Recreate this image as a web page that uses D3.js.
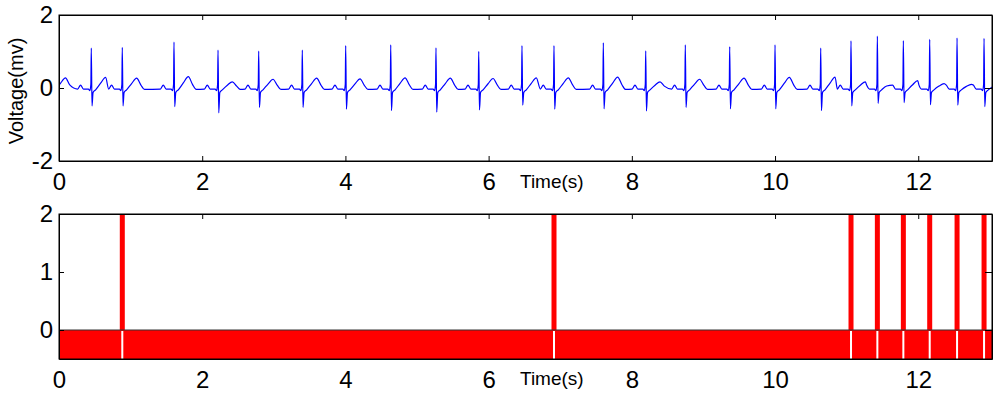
<!DOCTYPE html>
<html>
<head>
<meta charset="utf-8">
<script src="https://cdn.jsdelivr.net/npm/d3@7"></script>
<style>
  body { margin: 0; background: #fff; }
  svg { display: block; font-family: "Liberation Sans", Arial, sans-serif; }
  .axis path, .axis line { stroke: #000; }
  .axis text { font-size: 24px; fill: #000; }
</style>
</head>
<body>
<div id="chart"></div>
<script>
// R-peak times (s) (first one is the beat just before t=0)
var rTimes = [-0.11, 0.451, 0.884, 1.606, 2.221, 2.789, 3.398, 4.004, 4.633, 5.265, 5.862, 6.466,
              6.913, 7.602, 8.194, 8.747, 9.367, 10.0, 10.638, 11.061, 11.429, 11.792, 12.160, 12.542, 12.919];
var rAmps = [1.0, 1.09, 1.11, 1.26, 1.04, 1.01, 1.04, 1.16, 1.18, 1.10, 1.00, 1.16,
             1.16, 1.24, 1.02, 1.18, 1.13, 1.18, 1.09, 1.29, 1.42, 1.30, 1.33, 1.37, 1.36];
var sAmps = [-0.5, -0.49, -0.49, -0.51, -0.68, -0.53, -0.53, -0.58, -0.62, -0.66, -0.60, -0.47,
             -0.58, -0.57, -0.63, -0.53, -0.57, -0.57, -0.62, -0.49, -0.42, -0.40, -0.46, -0.47, -0.51];
var tAmps = [0.28, 0.29, 0.27, 0.31, 0.17, 0.24, 0.27, 0.25, 0.28, 0.27, 0.26, 0.28,
             0.28, 0.30, 0.17, 0.24, 0.27, 0.29, 0.30, 0.17, 0.12, 0.2, 0.12, 0.1, 0.1];

// one PQRST complex: offset from R (s) and level ('R','S','T' scale by beat)
var shapeOffsets = [-0.19, -0.15, -0.11, -0.04, -0.02, -0.006, 0, 0.01, 0.025, 0.06, 0.13, 0.2, 0.26, 0.31];
var shapeLevels  = [-0.03, 0.08, -0.03, -0.03, -0.07, 0.1, 'R', 'S', -0.12, -0.05, 'T45', 'T', 'T30', -0.04];

// labels in the bottom panel
var labelTimes = [0.884, 6.913, 11.061, 11.429, 11.792, 12.160, 12.542, 12.919];
var labelValues = [2, 2, 2, 2, 2, 2, 2, 2];
var baseValue = -0.5;

var xTicks = [0, 2, 4, 6, 8, 10, 12];
var yTicksTop = [-2, 0, 2];
var yTicksBottom = [0, 1, 2];

var width = 1000, height = 398;
var left = 59, right = 992;

var svg = d3.select('#chart').append('svg')
    .attr('width', width)
    .attr('height', height);

var x = d3.scaleLinear().domain([0, 13.03]).range([left, right]);

// build the ecg trace
var points = [];
rTimes.forEach(function(rt, i) {
    var prevRR = i > 0 ? rt - rTimes[i - 1] : 1;
    var nextRR = i < rTimes.length - 1 ? rTimes[i + 1] - rt : 1;
    shapeOffsets.forEach(function(off, k) {
        if (off < -prevRR * 0.45 || off > nextRR * 0.55) return;
        var lv = shapeLevels[k], v;
        if (lv === 'R') v = rAmps[i];
        else if (lv === 'S') v = sAmps[i];
        else if (lv === 'T') v = tAmps[i];
        else if (lv === 'T45') v = tAmps[i] * 0.45;
        else if (lv === 'T30') v = tAmps[i] * 0.3;
        else v = lv;
        points.push([rt + off, v]);
    });
});
points.push([13.2, -0.03]);
points.sort(function(a, b) { return a[0] - b[0]; });

// ---- top panel
var top1 = 15, bot1 = 161;
var y1 = d3.scaleLinear().domain([-2, 2]).range([bot1, top1]);

svg.append('clipPath').attr('id', 'clip1')
  .append('rect').attr('x', left).attr('y', top1).attr('width', right - left).attr('height', bot1 - top1);

svg.append('path')
    .datum(points)
    .attr('clip-path', 'url(#clip1)')
    .attr('fill', 'none')
    .attr('stroke', '#0000ff')
    .attr('stroke-width', 1.2)
    .attr('d', d3.line()
        .x(function(d) { return x(d[0]); })
        .y(function(d) { return y1(d[1]); })
        .curve(d3.curveMonotoneX));

var fmt = function(d) { return String(d); };

function drawAxes(y, top, bot, yTicks, ticksBottom) {
    svg.append('g').attr('class', 'axis')
        .attr('transform', 'translate(0,' + bot + ')')
        .call(d3.axisBottom(x).tickValues(xTicks).tickSizeInner(ticksBottom ? -5 : 0).tickSizeOuter(0)
            .tickPadding(12).tickFormat(fmt));
    svg.append('g').attr('class', 'axis')
        .attr('transform', 'translate(0,' + top + ')')
        .call(d3.axisTop(x).tickValues(xTicks).tickSizeInner(-5).tickSizeOuter(0).tickFormat(''));
    svg.append('g').attr('class', 'axis')
        .attr('transform', 'translate(' + left + ',0)')
        .call(d3.axisLeft(y).tickValues(yTicks).tickSizeInner(-5).tickSizeOuter(0)
            .tickPadding(6).tickFormat(fmt));
    svg.append('g').attr('class', 'axis')
        .attr('transform', 'translate(' + right + ',0)')
        .call(d3.axisRight(y).tickValues(yTicks).tickSizeInner(-7).tickSizeOuter(0).tickFormat(''));
    svg.append('rect')
        .attr('x', left).attr('y', top)
        .attr('width', right - left).attr('height', bot - top)
        .attr('fill', 'none').attr('stroke', '#000').attr('stroke-width', 1);
}

drawAxes(y1, top1, bot1, yTicksTop, true);

svg.append('text')
    .attr('x', 520).attr('y', 188)
    .style('font-size', '19px')
    .text('Time(s)');

svg.append('text')
    .attr('transform', 'translate(23,91) rotate(-90)')
    .attr('text-anchor', 'middle')
    .style('font-size', '20px')
    .text('Voltage(mv)');

// ---- bottom panel
var top2 = 214, bot2 = 359;
var y2 = d3.scaleLinear().domain([baseValue, 2]).range([bot2, top2]);

var barW = 5, gapW = 2;

svg.append('g').selectAll('rect.bar')
    .data(labelTimes)
    .enter().append('rect')
    .attr('class', 'bar')
    .attr('x', function(d) { return x(d) - barW / 2; })
    .attr('y', function(d, i) { return y2(labelValues[i]); })
    .attr('width', barW)
    .attr('height', function(d, i) { return y2(0) - y2(labelValues[i]); })
    .attr('fill', '#ff0000');

svg.append('rect')
    .attr('x', x(0)).attr('y', y2(0))
    .attr('width', x.range()[1] - x(0)).attr('height', y2(baseValue) - y2(0))
    .attr('fill', '#ff0000');

svg.append('g').selectAll('rect.gap')
    .data(labelTimes)
    .enter().append('rect')
    .attr('class', 'gap')
    .attr('x', function(d) { return x(d) - gapW / 2; })
    .attr('y', y2(0) + 1)
    .attr('width', gapW)
    .attr('height', y2(baseValue) - y2(0) - 1)
    .attr('fill', '#fff');

svg.append('line')
    .attr('x1', left).attr('x2', right)
    .attr('y1', y2(0)).attr('y2', y2(0))
    .attr('stroke', '#333').attr('stroke-width', 1);

drawAxes(y2, top2, bot2, yTicksBottom, false);

svg.append('text')
    .attr('x', 520).attr('y', 385)
    .style('font-size', '19px')
    .text('Time(s)');
</script>
</body>
</html>
